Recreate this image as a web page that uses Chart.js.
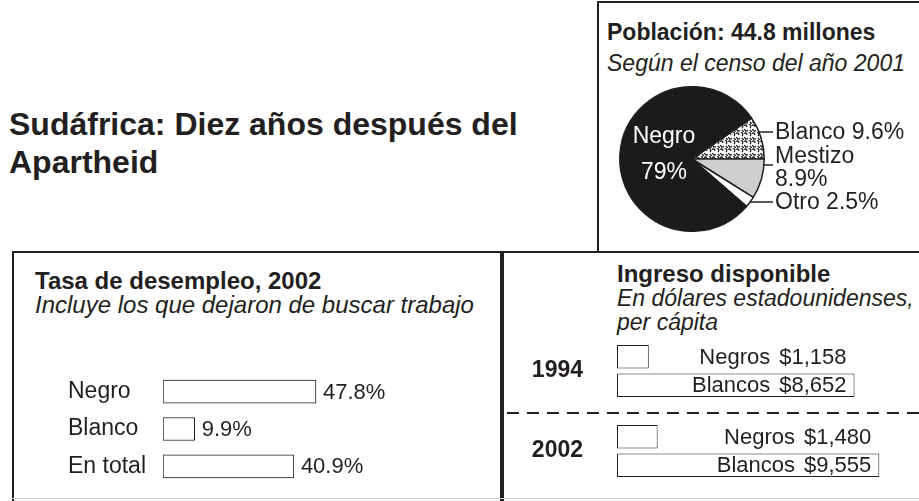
<!DOCTYPE html>
<html lang="es">
<head>
<meta charset="utf-8">
<title>Sudáfrica: Diez años después del Apartheid</title>
<script src="https://cdn.jsdelivr.net/npm/chart.js@4.4.0/dist/chart.umd.min.js"></script>
<style>
  html, body { margin: 0; padding: 0; background: #fff; }
  body {
    width: 919px; height: 501px; position: relative; overflow: hidden;
    font-family: "Liberation Sans", Arial, sans-serif; color: #231f20;
  }
  .txt { position: absolute; white-space: nowrap; }
  .linea { position: absolute; background: #231f20; }
  canvas { position: absolute; }
  .b { font-weight: bold; }
  .i { font-style: italic; }
</style>
</head>
<body>

<!-- marcos -->
<div class="linea" style="left:597px; top:1px; width:322px; height:2px;"></div>
<div class="linea" style="left:597px; top:1px; width:2px; height:252px;"></div>
<div class="linea" style="left:12px; top:251px; width:907px; height:2px;"></div>
<div class="linea" style="left:12px; top:251px; width:2px; height:250px;"></div>
<div class="linea" style="left:500px; top:251px; width:4px; height:250px;"></div>
<div class="linea" style="left:12px; top:498px; width:907px; height:1px; background:#d4d4d4;"></div>

<!-- títulos -->
<div class="txt b" style="left:9px; top:105px; font-size:32px; line-height:38px;">Sudáfrica: Diez años después del<br>Apartheid</div>

<div class="txt" style="left:607px; top:17px; font-size:23px; line-height:31px;">
  <span class="b">Población: 44.8 millones</span><br><span class="i">Según el censo del año 2001</span>
</div>

<div class="txt" style="left:35px; top:269px; font-size:24px; line-height:24px;">
  <span class="b">Tasa de desempleo, 2002</span><br><span class="i">Incluye los que dejaron de buscar trabajo</span>
</div>

<div class="txt" style="left:617px; top:262px; font-size:24px; line-height:24px;">
  <span class="b">Ingreso disponible</span><br><span class="i" style="font-size:23px;">En dólares estadounidenses,<br>per cápita</span>
</div>

<canvas id="pastel" width="319" height="190" style="left:600px; top:60px;"></canvas>
<canvas id="desempleo" width="351" height="112" style="left:68px; top:373px;"></canvas>
<canvas id="ingreso" width="414" height="160" style="left:505px; top:331px;"></canvas>

<script>
// Datos de población (censo 2001), en %
const poblacionEtiquetas = ["Blanco", "Mestizo", "Otro", "Negro"];
const poblacionValores = [9.6, 8.9, 2.5, 79];

// Tasa de desempleo 2002, en %
const grupos = ["Negro", "Blanco", "En total"];
const desempleo = [47.8, 9.9, 40.9];

// Ingreso disponible per cápita, en dólares
const anios = ["1994", "2002"];
const ingresoNegros = [1158, 1480];
const ingresoBlancos = [8652, 9555];

const FUENTE = '"Liberation Sans", Arial, sans-serif';
const TINTA = "#231f20";

Chart.defaults.font.family = FUENTE;
Chart.defaults.color = TINTA;
Chart.defaults.animation = false;
Chart.defaults.devicePixelRatio = 1;
Chart.defaults.plugins.legend.display = false;
Chart.defaults.plugins.tooltip.enabled = false;

// Textura punteada para el sector "Blanco"
function crearPunteado() {
  const c = document.createElement("canvas");
  c.width = 8;
  c.height = 8;
  const g = c.getContext("2d");
  g.fillStyle = "#fff";
  g.fillRect(0, 0, 8, 8);
  g.strokeStyle = "#1a1a1a";
  g.lineWidth = 1.3;
  g.beginPath();
  g.moveTo(0, 1.5); g.quadraticCurveTo(2.5, 0, 3, 3);
  g.moveTo(5, 0); g.quadraticCurveTo(8, 1.5, 6, 4);
  g.moveTo(0.5, 5); g.quadraticCurveTo(1.5, 8, 4, 6.5);
  g.moveTo(6, 6); g.quadraticCurveTo(8, 8, 8, 7);
  g.stroke();
  return g.createPattern(c, "repeat");
}

// Etiquetas del gráfico de pastel
const etiquetasPastel = {
  id: "etiquetasPastel",
  afterDraw(chart) {
    const ctx = chart.ctx;
    const arc = chart.getDatasetMeta(0).data[0];
    const cx = arc.x, cy = arc.y, r = arc.outerRadius;
    ctx.save();
    ctx.textBaseline = "middle";

    // dentro del sector Negro
    ctx.fillStyle = "#fff";
    ctx.textAlign = "center";
    ctx.font = "23px " + FUENTE;
    ctx.fillText(poblacionEtiquetas[3], cx - 28, cy - 22);
    ctx.fillText(poblacionValores[3] + "%", cx - 28, cy + 14);

    // fuera, con línea guía
    const guias = [
      { dy: -27, textos: [[poblacionEtiquetas[0] + " " + poblacionValores[0] + "%", -26]] },
      { dy: 6, textos: [[poblacionEtiquetas[1], -2], [poblacionValores[1] + "%", 21]] },
      { dy: 43, textos: [[poblacionEtiquetas[2] + " " + poblacionValores[2] + "%", 44]] },
    ];
    ctx.fillStyle = TINTA;
    ctx.strokeStyle = TINTA;
    ctx.lineWidth = 1.5;
    ctx.textAlign = "left";
    ctx.font = "23px " + FUENTE;
    guias.forEach((g) => {
      const x0 = cx + Math.sqrt(r * r - g.dy * g.dy);
      ctx.beginPath();
      ctx.moveTo(x0, cy + g.dy);
      ctx.lineTo(cx + 81, cy + g.dy);
      ctx.stroke();
      g.textos.forEach(([t, dy]) => ctx.fillText(t, cx + 83, cy + dy));
    });
    ctx.restore();
  },
};

new Chart(document.getElementById("pastel"), {
  type: "pie",
  data: {
    labels: poblacionEtiquetas,
    datasets: [
      {
        data: poblacionValores,
        backgroundColor: [crearPunteado(), "#cfcfcf", "#ffffff", "#1c1a1b"],
        borderColor: TINTA,
        borderWidth: 1.5,
      },
    ],
  },
  options: {
    responsive: false,
    rotation: 90 - (poblacionValores[0] / 100) * 360,
    layout: { padding: { left: 19, right: 154, top: 26, bottom: 18 } },
  },
  plugins: [etiquetasPastel],
});

// Valores al final de cada barra de desempleo
const valoresDesempleo = {
  id: "valoresDesempleo",
  afterDatasetsDraw(chart) {
    const ctx = chart.ctx;
    ctx.save();
    ctx.font = "22px " + FUENTE;
    ctx.fillStyle = TINTA;
    ctx.textBaseline = "middle";
    chart.getDatasetMeta(0).data.forEach((bar, i) => {
      ctx.fillText(desempleo[i] + "%", bar.x + 7, bar.y + 1);
    });
    ctx.restore();
  },
};

new Chart(document.getElementById("desempleo"), {
  type: "bar",
  data: {
    labels: grupos,
    datasets: [
      {
        data: desempleo,
        backgroundColor: "#fff",
        borderColor: TINTA,
        borderWidth: 1,
        borderSkipped: false,
        barThickness: 23,
      },
    ],
  },
  options: {
    responsive: false,
    indexAxis: "y",
    layout: { padding: 0 },
    scales: {
      x: { display: false, min: 0, max: 80 },
      y: {
        grid: { display: false, drawTicks: false },
        border: { display: false },
        ticks: { crossAlign: "far", padding: 0, font: { size: 23 } },
        afterFit(scale) {
          scale.width = 95;
          scale.paddingTop = 0;
          scale.paddingBottom = 0;
        },
      },
    },
  },
  plugins: [valoresDesempleo],
});

// Etiquetas de ingreso y línea discontinua entre años
const etiquetasIngreso = {
  id: "etiquetasIngreso",
  beforeDatasetsDraw(chart) {
    const ctx = chart.ctx;
    const y = chart.scales.y;
    const medio = (y.getPixelForValue(0) + y.getPixelForValue(1)) / 2 + 2;
    ctx.save();
    ctx.strokeStyle = TINTA;
    ctx.lineWidth = 2;
    ctx.setLineDash([12, 8]);
    ctx.beginPath();
    ctx.moveTo(2, medio);
    ctx.lineTo(chart.width, medio);
    ctx.stroke();
    ctx.restore();
  },
  afterDatasetsDraw(chart) {
    const ctx = chart.ctx;
    const blancos = chart.getDatasetMeta(1).data;
    ctx.save();
    ctx.font = "22px " + FUENTE;
    ctx.fillStyle = TINTA;
    ctx.textBaseline = "middle";
    ctx.textAlign = "right";
    chart.data.datasets.forEach((ds, d) => {
      chart.getDatasetMeta(d).data.forEach((bar, i) => {
        const fin = blancos[i].x - 8;
        const valor = "$" + ds.data[i].toLocaleString("en-US");
        ctx.fillText(valor, fin, bar.y + 1);
        ctx.fillText(ds.label, fin - ctx.measureText(valor).width - 9, bar.y + 1);
      });
    });
    ctx.restore();
  },
};

const estiloBarra = {
  backgroundColor: "#fff",
  borderColor: TINTA,
  borderWidth: 1,
  borderSkipped: false,
  categoryPercentage: 0.7125,
  barPercentage: 0.82,
};

new Chart(document.getElementById("ingreso"), {
  type: "bar",
  data: {
    labels: anios,
    datasets: [
      { label: "Negros", data: ingresoNegros, ...estiloBarra },
      { label: "Blancos", data: ingresoBlancos, ...estiloBarra },
    ],
  },
  options: {
    responsive: false,
    indexAxis: "y",
    layout: { padding: 0 },
    scales: {
      x: { display: false, min: 0, max: 11000 },
      y: {
        grid: { display: false, drawTicks: false },
        border: { display: false },
        ticks: { crossAlign: "near", padding: 34, font: { size: 23, weight: "bold" } },
        afterFit(scale) {
          scale.width = 112;
          scale.paddingTop = 0;
          scale.paddingBottom = 0;
        },
      },
    },
  },
  plugins: [etiquetasIngreso],
});
</script>
</body>
</html>
